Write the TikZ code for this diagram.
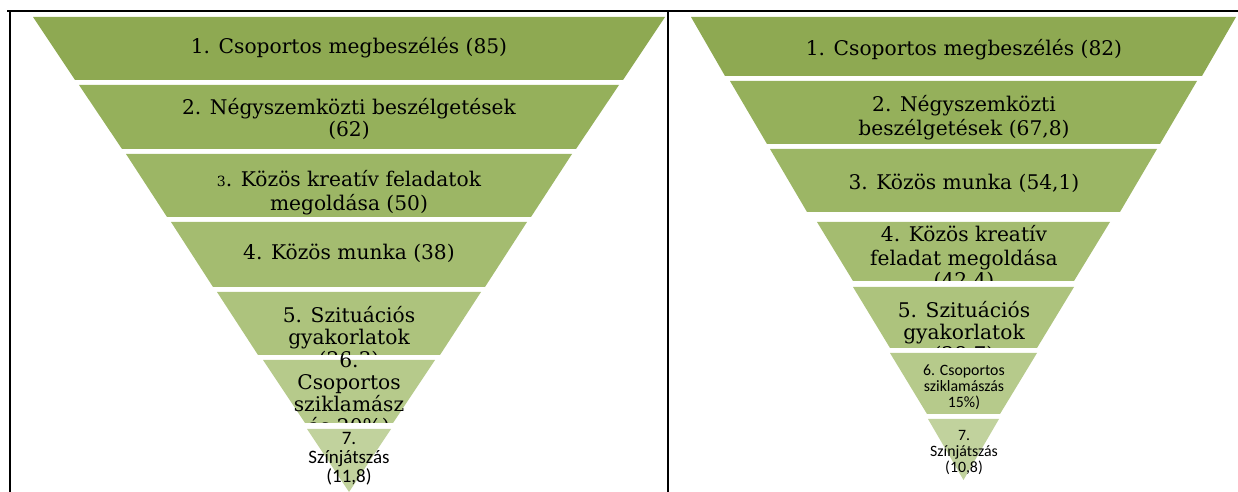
\documentclass[tikz,border=0pt]{standalone}
\usepackage{fontspec}
\setmainfont{DejaVu Serif}
\newfontfamily\calibrifont{Carlito}
\definecolor{band1}{HTML}{8EA952}
\definecolor{band2}{HTML}{95B05B}
\definecolor{band3}{HTML}{9CB665}
\definecolor{band4}{HTML}{A4BC70}
\definecolor{band5}{HTML}{ADC37D}
\definecolor{band6}{HTML}{B6CA8B}
\definecolor{band7}{HTML}{C1D29D}
\tikzset{
	rule/.style={line width=1.2pt, black},
	bandtext/.style={anchor=north, inner sep=0pt, align=center, font=\fontsize{11.5pt}{12.5pt}\selectfont},
	lefttiny/.style={bandtext, font=\calibrifont\fontsize{10.8pt}{10.9pt}\selectfont},
	righttiny/.style={bandtext, font=\calibrifont\fontsize{9pt}{9.2pt}\selectfont}
}
\begin{document}
\begin{tikzpicture}[x=0.02cm, y=-0.02cm]
			\useasboundingbox (0,0) rectangle (1238,492);
			\foreach \cx/\yt/\yb/\wt/\wb [count=\xi] in {
				349/17/80/316/274,
				349/85/149/270/227,
				349/154/217/223/182,
				349/222/287/178/136,
				349/292/355/132/91,
				349/360/423/86/44,
				349/429/492/42/0,
				963.5/17/76/272.5/238.5,
				963.5/81/144/233.5/196.5,
				963.5/149/212/193.5/156.5,
				963.5/222/281/146.5/110.5,
				963.5/287/348/110.5/73.5,
				963.5/353/414/73.5/36.5,
				963.5/419/480/35.5/0
			}{
			\pgfmathtruncatemacro\tone{mod(\xi-1,7)+1}
			\fill[band\tone] (\cx-\wt,\yt) -- (\cx+\wt,\yt) -- (\cx+\wb,\yb) -- (\cx-\wb,\yb) -- cycle;
			}
			\begin{scope}
				\clip (0,12) rectangle (1238,80);
				\node[bandtext] (L1) at (349,36.6) {\strut 1. Csoportos megbeszélés (85)};
			\end{scope}
			\begin{scope}
				\clip (0,80) rectangle (1238,149);
				\node[bandtext] (L2) at (349,97.6) {\strut 2. Négyszemközti beszélgetések\\(62)};
			\end{scope}
			\begin{scope}
				\clip (0,149) rectangle (1238,217);
				\node[bandtext] (L3) at (349,169.6) {\strut{\fontsize{8pt}{9pt}\selectfont 3}. Közös kreatív feladatok\\megoldása (50)};
			\end{scope}
			\begin{scope}
				\clip (0,217) rectangle (1238,287);
				\node[bandtext] (L4) at (349,243.6) {\strut 4. Közös munka (38)};
			\end{scope}
			\begin{scope}
				\clip (0,287) rectangle (1238,355);
				\node[bandtext] (L5) at (349,305.6) {\strut 5. Szituációs\\gyakorlatok\\(26,3)};
			\end{scope}
			\begin{scope}
				\clip (0,355) rectangle (1238,423);
				\node[bandtext] (L6) at (349,351.6) {\strut 6.\\Csoportos\\sziklamász\\ás 20\%)};
			\end{scope}
			\begin{scope}
				\clip (0,423) rectangle (1238,492);
				\node[lefttiny] (L7) at (349,430.7) {\strut 7.\\Színjátszás\\(11,8)};
			\end{scope}
			\begin{scope}
				\clip (0,12) rectangle (1238,76);
				\node[bandtext] (R1) at (964,38.6) {\strut 1. Csoportos megbeszélés (82)};
			\end{scope}
			\begin{scope}
				\clip (0,76) rectangle (1238,144);
				\node[bandtext] (R2) at (964,94.6) {\strut 2. Négyszemközti\\beszélgetések (67,8)};
			\end{scope}
			\begin{scope}
				\clip (0,144) rectangle (1238,212);
				\node[bandtext] (R3) at (964,173.6) {\strut 3. Közös munka (54,1)};
			\end{scope}
			\begin{scope}
				\clip (0,212) rectangle (1238,281);
				\node[bandtext] (R4) at (964,224.6) {\strut 4. Közös kreatív\\feladat megoldása\\(42,4)};
			\end{scope}
			\begin{scope}
				\clip (0,281) rectangle (1238,348);
				\node[bandtext] (R5) at (964,300.6) {\strut 5. Szituációs\\gyakorlatok\\(28,7)};
			\end{scope}
			\begin{scope}
				\clip (0,348) rectangle (1238,414);
				\node[righttiny] (R6) at (964,363.6) {\strut 6. Csoportos\\sziklamászás\\15\%)};
			\end{scope}
			\begin{scope}
				\clip (0,414) rectangle (1238,492);
				\node[righttiny] (R7) at (964,428.6) {\strut 7.\\Színjátszás\\(10,8)};
			\end{scope}
			\draw[rule] (7,10.7) -- (1238,10.7);
			\draw[rule] (10,10.7) -- (10,492);
			\draw[rule] (667.7,10.7) -- (667.7,492);
\end{tikzpicture}
\end{document}
